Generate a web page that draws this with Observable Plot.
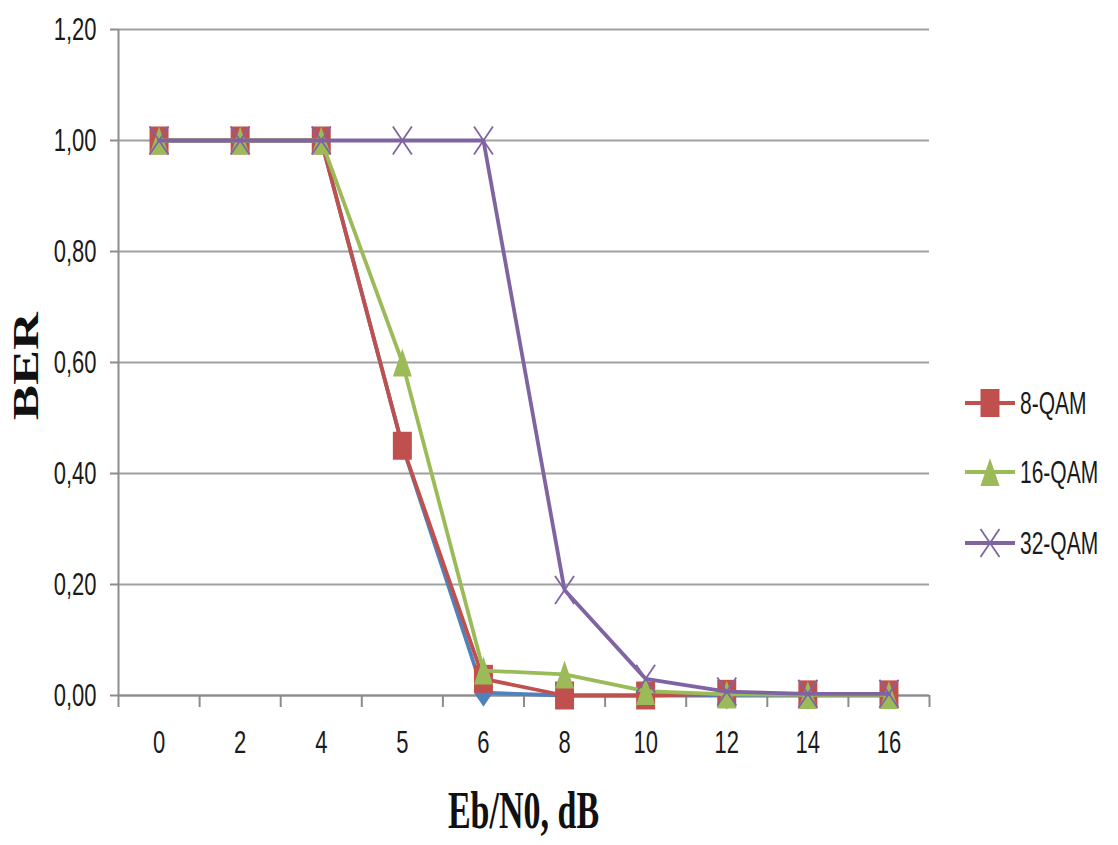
<!DOCTYPE html>
<html>
<head>
<meta charset="utf-8">
<script src="https://cdn.jsdelivr.net/npm/d3@7"></script>
<script src="https://cdn.jsdelivr.net/npm/@observablehq/plot@0.6"></script>
<style>
  html, body { margin: 0; padding: 0; background: #fff; }
  #chart { position: relative; width: 1118px; height: 845px; }
</style>
</head>
<body>
<div id="chart"></div>
<script>
// ---- data ----
const xLabels = ["0", "2", "4", "5", "6", "8", "10", "12", "14", "16"];
const seriesNames = ["8-QAM", "16-QAM", "32-QAM"];
const ber8qam  = [1.00, 1.00, 1.00, 0.45, 0.030, 0.000, 0.000, 0.003, 0.002, 0.002];
const ber16qam = [1.00, 1.00, 1.00, 0.60, 0.045, 0.038, 0.008, 0.002, 0.001, 0.001];
const ber32qam = [1.00, 1.00, 1.00, 1.00, 1.000, 0.190, 0.030, 0.007, 0.003, 0.003];
// unlabelled series visible only as a blue trace near 6 dB
const berHidden = [1.00, 1.00, 1.00, 0.45, 0.005, 0.000, 0.000, 0.000, 0.000, 0.000];
const yTicks = [0, 0.2, 0.4, 0.6, 0.8, 1.0, 1.2];
const seriesColors = ["#C0504D", "#9BBB59", "#8064A2"];
const hiddenColor = "#4F81BD";

// ---- marker shapes (Excel-like, tall) ----
const MW = 19, MH = 28;
const rectSym = {draw(c) { c.moveTo(-MW/2, -MH/2); c.lineTo(MW/2, -MH/2); c.lineTo(MW/2, MH/2); c.lineTo(-MW/2, MH/2); c.closePath(); }};
const triSym  = {draw(c) { c.moveTo(0, -MH/2); c.lineTo(MW/2, MH/2); c.lineTo(-MW/2, MH/2); c.closePath(); }};
const xSym    = {draw(c) { c.moveTo(-MW/2, -MH/2); c.lineTo(MW/2, MH/2); c.moveTo(MW/2, -MH/2); c.lineTo(-MW/2, MH/2); }};
const diaSym  = {draw(c) { c.moveTo(0, -MH/2); c.lineTo(MW/2, 0); c.lineTo(0, MH/2); c.lineTo(-MW/2, 0); c.closePath(); }};

const toRows = (vals, name) => vals.map((v, i) => ({i, label: xLabels[i], ber: v, series: name}));
const rows8 = toRows(ber8qam, seriesNames[0]);
const rows16 = toRows(ber16qam, seriesNames[1]);
const rows32 = toRows(ber32qam, seriesNames[2]);
const rowsHidden = toRows(berHidden, "hidden");

const centers = xLabels.map((_, i) => i);
const boundaries = xLabels.map((_, i) => i - 0.5).concat([xLabels.length - 0.5]);

const axisColor = "#8c8c8c";
const gridColor = "#a0a0a0";
const LW = 3.8;

function seriesMarks(rows, color, sym, filled) {
  return [
    Plot.line(rows, {x: "i", y: "ber", stroke: color, strokeWidth: LW, strokeLinejoin: "round"}),
    Plot.dot(rows, filled
      ? {x: "i", y: "ber", symbol: () => sym, r: 5, fill: color, stroke: "none"}
      : {x: "i", y: "ber", symbol: () => sym, r: 5, fill: "none", stroke: color, strokeWidth: 1.8})
  ];
}

const fmt = d => d.toFixed(2).replace(".", ",");

const plot = Plot.plot({
  width: 1118,
  height: 845,
  marginLeft: 118,
  marginRight: 189,
  marginTop: 29,
  marginBottom: 150,
  style: {fontFamily: "'Liberation Sans', Arial, sans-serif", background: "#fff"},
  x: {type: "linear", domain: [-0.5, xLabels.length - 0.5]},
  y: {domain: [0, 1.2]},
  symbol: {type: "identity"},
  marks: [
    Plot.gridY(yTicks, {stroke: gridColor, strokeOpacity: 1, strokeWidth: 2}),
    Plot.axisY(yTicks, {tickSize: 8, tickPadding: 14, tickFormat: fmt, stroke: axisColor, strokeWidth: 2, strokeOpacity: 1, fontSize: 22, fill: "#1a1a1a", label: null}),
    Plot.axisX(boundaries, {tickSize: 12, tickFormat: () => "", stroke: axisColor, strokeWidth: 2, strokeOpacity: 1, label: null}),
    Plot.axisX(centers, {tickSize: 0, tickPadding: 35, tickFormat: i => xLabels[i], fontSize: 22, fill: "#1a1a1a", label: null}),
    Plot.ruleX([-0.5], {stroke: axisColor, strokeWidth: 2}),
    Plot.ruleY([0], {stroke: axisColor, strokeWidth: 2}),
    ...seriesMarks(rowsHidden, hiddenColor, diaSym, true),
    ...seriesMarks(rows8, seriesColors[0], rectSym, true),
    ...seriesMarks(rows16, seriesColors[1], triSym, true),
    ...seriesMarks(rows32, seriesColors[2], xSym, false)
  ]
});

// stretch tick labels vertically like the reference
plot.querySelectorAll('g[aria-label$="tick label"] text').forEach(t => {
  const tr = t.getAttribute("transform") || "";
  t.setAttribute("transform", tr + " scale(1,1.45)");
});

const svg = d3.select(plot);

// axis titles
svg.append("text")
  .attr("transform", "translate(523.5,828) scale(1,1.55)")
  .attr("text-anchor", "middle")
  .style("font-family", "'Liberation Serif', 'Times New Roman', serif")
  .style("font-weight", "bold")
  .style("font-size", "34px")
  .attr("fill", "#111")
  .text("Eb/N0, dB");

svg.append("text")
  .attr("transform", "translate(38,366) rotate(-90) scale(1.5,1)")
  .attr("text-anchor", "middle")
  .style("font-family", "'Liberation Serif', 'Times New Roman', serif")
  .style("font-weight", "bold")
  .style("font-size", "35px")
  .attr("fill", "#111")
  .text("BER");

// legend
const legendSyms = [rectSym, triSym, xSym];
const legendY = [403, 472, 543];
seriesNames.forEach((name, k) => {
  const g = svg.append("g").attr("transform", `translate(0,${legendY[k]})`);
  g.append("line").attr("x1", 965).attr("x2", 1015).attr("y1", 0).attr("y2", 0)
    .attr("stroke", seriesColors[k]).attr("stroke-width", LW);
  const p = d3.path();
  legendSyms[k].draw(p);
  const filled = k < 2;
  g.append("path").attr("d", p.toString()).attr("transform", "translate(990,0)")
    .attr("fill", filled ? seriesColors[k] : "none")
    .attr("stroke", filled ? "none" : seriesColors[k])
    .attr("stroke-width", 1.8);
  g.append("text").attr("transform", "translate(1020,0) scale(1,1.45)")
    .attr("y", "0.35em")
    .attr("text-anchor", "start")
    .style("font-family", "'Liberation Sans', Arial, sans-serif")
    .style("font-size", "21px")
    .attr("fill", "#1a1a1a")
    .text(name);
});

document.getElementById("chart").appendChild(plot);
</script>
</body>
</html>
